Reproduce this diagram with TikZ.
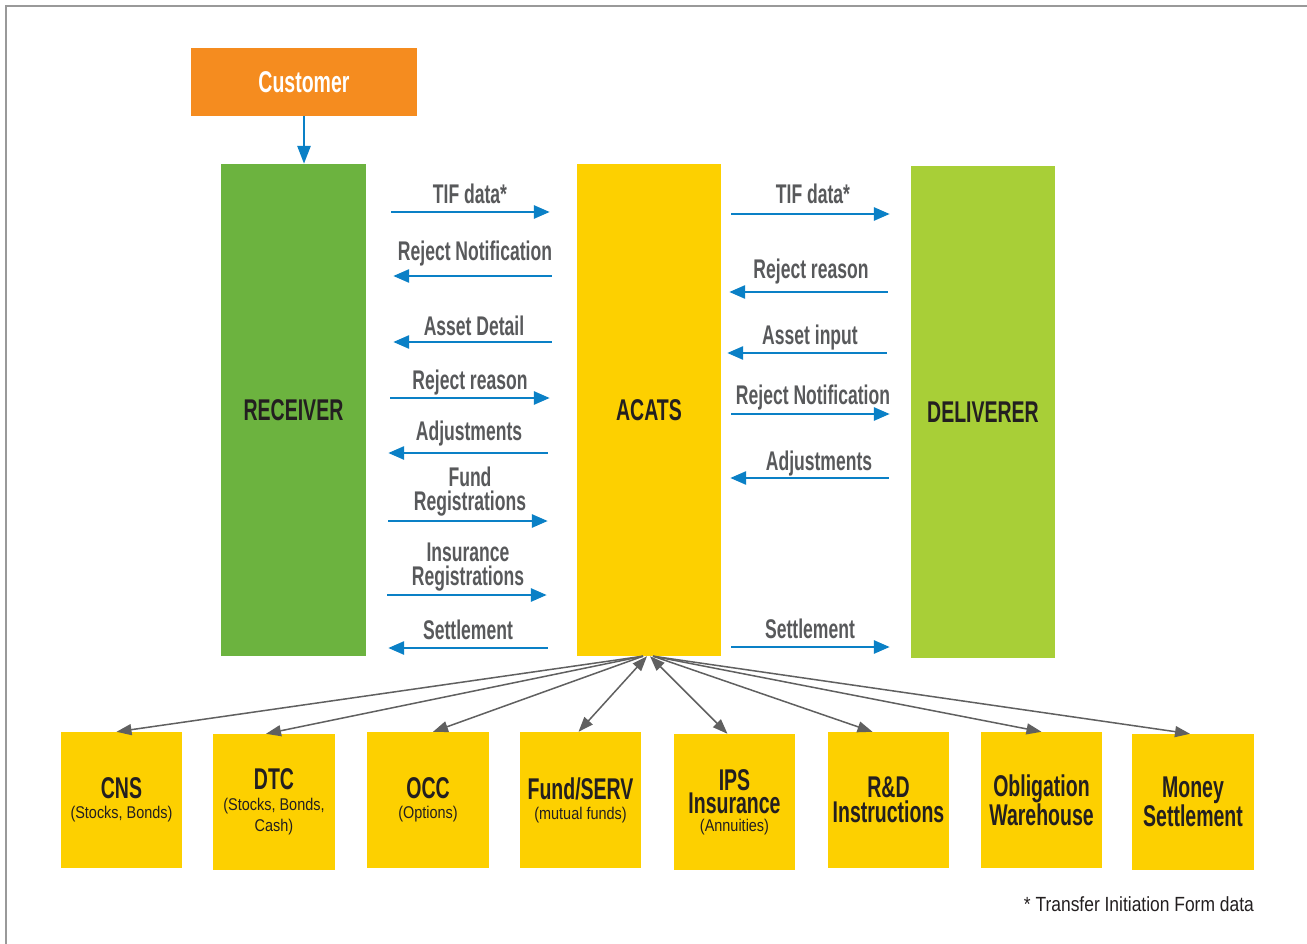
\documentclass[tikz,border=0pt]{standalone}
\usepackage{fontspec}
\usetikzlibrary{arrows.meta,calc}
\newfontfamily\cond{Liberation Sans}[FakeStretch=0.65]
\newfontfamily\condr{Liberation Sans}[FakeStretch=0.85]
\definecolor{cOrange}{HTML}{F58C1F}
\definecolor{cGreen}{HTML}{6CB33F}
\definecolor{cLime}{HTML}{A8CF37}
\definecolor{cYellow}{HTML}{FDD000}
\definecolor{cBlue}{HTML}{0A80C6}
\definecolor{cGrayArr}{HTML}{606060}
\definecolor{cLbl}{HTML}{58595B}
\definecolor{cTxt}{HTML}{231F20}
\definecolor{cFrame}{HTML}{999999}
\newcommand\subf{\condr\mdseries\fontsize{17}{20}\selectfont}
\begin{document}
\begin{tikzpicture}[x=1pt,y=-1pt,
  bigbox/.style={rectangle, inner sep=0pt, minimum width=145pt, minimum height=492pt,
     font=\cond\bfseries\fontsize{30}{30}\selectfont, text=cTxt},
  smallbox/.style={rectangle, fill=cYellow, inner sep=0pt, minimum width=121.5pt, minimum height=136pt,
     align=center, font=\cond\bfseries\fontsize{30}{25}\selectfont, text=cTxt},
  lbl/.style={inner sep=0pt, anchor=base, align=center, text=cLbl,
     font=\cond\bfseries\fontsize{27}{24}\selectfont},
  flow/.style={draw=cBlue, line width=2.8pt, -{Triangle[length=16pt,width=13pt]}},
  fan/.style={draw=cGrayArr, line width=1.5pt, -{Triangle[length=15pt,width=11pt]}},
  fanboth/.style={draw=cGrayArr, line width=1.5pt, {Triangle[length=15pt,width=11pt]}-{Triangle[length=15pt,width=11pt]}},
  foot/.style={inner sep=0pt, text=cTxt, font=\condr\fontsize{20.5}{24}\selectfont}
]
\useasboundingbox (0,0) rectangle (1307,944);
\fill[white] (0,0) rectangle (1307,944);
\draw[cFrame, line width=2pt] (5.7,944) -- (5.7,6) -- (1307,6);

% main boxes
\node[rectangle, fill=cOrange, inner sep=0pt, minimum width=226pt, minimum height=68pt,
      text=white, font=\cond\bfseries\fontsize{30}{30}\selectfont] (customer) at (304,82) {Customer};
\node[bigbox, fill=cGreen] (receiver) at (293.5,410) {RECEIVER};
\node[bigbox, fill=cYellow, minimum width=144pt] (acats) at (649,410) {ACATS};
\node[bigbox, fill=cLime, minimum width=144pt] (deliverer) at (983,412) {DELIVERER};

\draw[flow, -{Triangle[length=18pt,width=13pt]}] (customer.south) -- (customer.south |- receiver.north);

% left flows
\draw[flow] ($(receiver.east|-0,212)+(25,0)$) -- ($(acats.west|-0,212)+(-27,0)$);
\node[lbl] (l1) at (470,204) {TIF data*};
\draw[flow] ($(acats.west|-0,276)+(-25,0)$) -- ($(receiver.east|-0,276)+(27,0)$);
\node[lbl] (l2) at (475,261) {Reject Notification};
\draw[flow] ($(acats.west|-0,342)+(-25,0)$) -- ($(receiver.east|-0,342)+(27,0)$);
\node[lbl] (l3) at (474,335) {Asset Detail};
\draw[flow] ($(receiver.east|-0,398)+(24,0)$) -- ($(acats.west|-0,398)+(-27,0)$);
\node[lbl] (l4) at (470,389) {Reject reason};
\draw[flow] ($(acats.west|-0,453)+(-29,0)$) -- ($(receiver.east|-0,453)+(22,0)$);
\node[lbl] (l5) at (469,440) {Adjustments};
\draw[flow] ($(receiver.east|-0,521)+(22,0)$) -- ($(acats.west|-0,521)+(-29,0)$);
\node[lbl, anchor=south] (l6) at (470,516) {Fund\\Registrations};
\draw[flow] ($(receiver.east|-0,595)+(21,0)$) -- ($(acats.west|-0,595)+(-30,0)$);
\node[lbl, anchor=south] (l7) at (468,591) {Insurance\\Registrations};
\draw[flow] ($(acats.west|-0,648)+(-29,0)$) -- ($(receiver.east|-0,648)+(22,0)$);
\node[lbl] (l8) at (468,639) {Settlement};

% right flows
\draw[flow] ($(acats.east|-0,214)+(10,0)$) -- ($(deliverer.west|-0,214)+(-21,0)$);
\node[lbl] (r1) at (813,204) {TIF data*};
\draw[flow] ($(deliverer.west|-0,292)+(-23,0)$) -- ($(acats.east|-0,292)+(8,0)$);
\node[lbl] (r2) at (811,279) {Reject reason};
\draw[flow] ($(deliverer.west|-0,353)+(-24,0)$) -- ($(acats.east|-0,353)+(6,0)$);
\node[lbl] (r3) at (810,344) {Asset input};
\draw[flow] ($(acats.east|-0,414)+(10,0)$) -- ($(deliverer.west|-0,414)+(-21,0)$);
\node[lbl] (r4) at (813,404) {Reject Notification};
\draw[flow] ($(deliverer.west|-0,478)+(-22,0)$) -- ($(acats.east|-0,478)+(9,0)$);
\node[lbl] (r5) at (819,470) {Adjustments};
\draw[flow] ($(acats.east|-0,647)+(10,0)$) -- ($(deliverer.west|-0,647)+(-21,0)$);
\node[lbl] (r6) at (810,638) {Settlement};

% bottom boxes
\node[smallbox] (cns) at (121.5,800) {CNS\\[-5pt]{\subf (Stocks, Bonds)}};
\node[smallbox] (dtc) at (274,802) {DTC\\[-4pt]{\subf (Stocks, Bonds,}\\[-4pt]{\subf Cash)}};
\node[smallbox] (occ) at (428,800) {OCC\\[-5pt]{\subf (Options)}};
\node[smallbox] (fund) at (580.5,800) {Fund/SERV\\[-5pt]{\subf (mutual funds)}};
\node[smallbox] (ips) at (734.5,802) {IPS\\[-2pt]Insurance\\[-7pt]{\subf (Annuities)}};
\node[smallbox] (rd) at (888.5,800) {R\&D\\Instructions};
\node[smallbox] (obl) at (1041.5,800) {Obligation\\Warehouse};
\node[smallbox] (money) at (1193,802) {Money\\Settlement};

% fan connectors
\coordinate (fanL) at ($(acats.south)+(-6,0)$);
\coordinate (fanR) at ($(acats.south)+(4,0)$);
\draw[fan] (fanL) -- ([xshift=-5pt]cns.north);
\draw[fan] (fanL) -- ([xshift=-8pt]dtc.north);
\draw[fan] (fanL) -- ([xshift=5pt]occ.north);
\draw[fanboth] ($(acats.south)+(-2,0)$) -- ([xshift=-2pt]fund.north);
\draw[fanboth] ($(acats.south)+(1,0)$) -- ([xshift=-7pt]ips.north);
\draw[fan] (fanR) -- ([xshift=-16pt]rd.north);
\draw[fan] (fanR) -- ([xshift=0pt]obl.north);
\draw[fan] (fanR) -- ([xshift=-3pt]money.north);

\node[foot, anchor=base east] (note) at (1254,911) {* Transfer Initiation Form data};
\end{tikzpicture}
\end{document}
